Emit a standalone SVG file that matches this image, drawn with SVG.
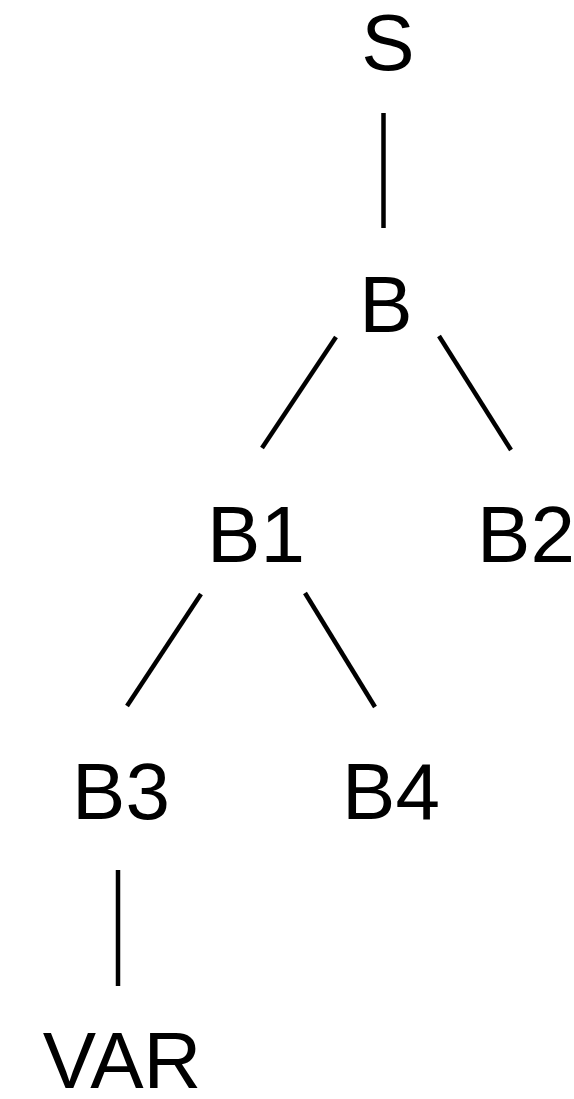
<svg xmlns="http://www.w3.org/2000/svg" width="574" height="1099" viewBox="0 0 574 1099">
<style>
text{font-family:"Liberation Sans",Arial,sans-serif;font-size:80px;fill:#000;text-anchor:middle}
.e line{stroke:#000;stroke-width:4.5}
</style>
<rect width="574" height="1099" fill="#fff"/>
<g class="e" id="edges">
<line x1="383.5" y1="113" x2="383.5" y2="228"/>
<line x1="336" y1="337" x2="262" y2="448"/>
<line x1="439" y1="336" x2="511" y2="450"/>
<line x1="201" y1="594" x2="127" y2="706"/>
<line x1="305" y1="593" x2="375" y2="707"/>
<line x1="118" y1="870" x2="118" y2="986"/>
</g>
<g id="S"><text x="388" y="70">S</text></g>
<g id="B"><text x="386" y="332">B</text></g>
<g id="B1"><text x="256" y="562">B1</text></g>
<g id="B2"><text x="526" y="562">B2</text></g>
<g id="B3"><text x="121" y="819">B3</text></g>
<g id="B4"><text x="391" y="819">B4</text></g>
<g id="VAR"><text x="122" y="1088">VAR</text></g>
</svg>
